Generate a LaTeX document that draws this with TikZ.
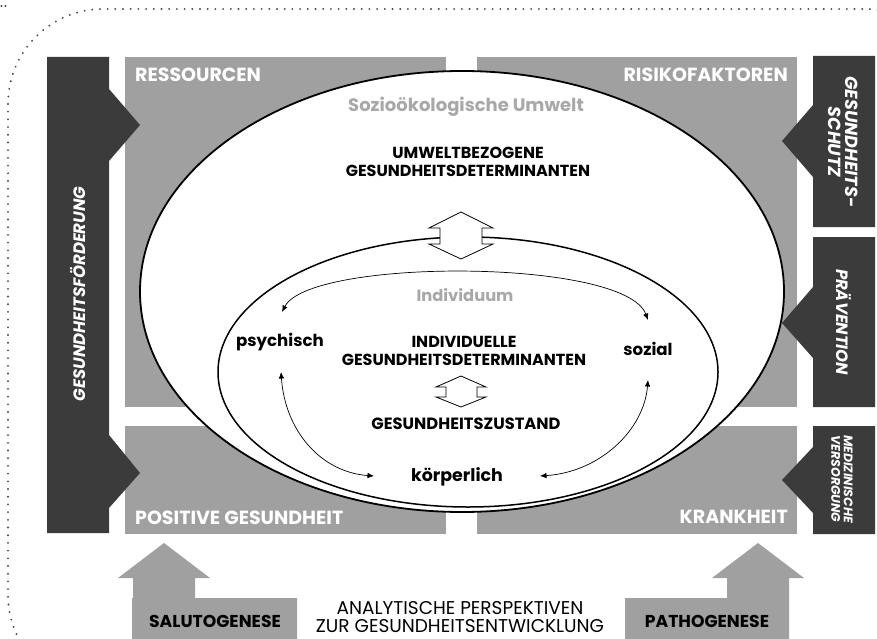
\documentclass[tikz,border=0pt]{standalone}
\usepackage{fontspec}
\setmainfont{Poppins}
\usetikzlibrary{arrows.meta}
\definecolor{dk}{HTML}{3B3B3B}
\definecolor{gr}{HTML}{A0A0A0}
\definecolor{lg}{HTML}{A8A8A8}
\definecolor{dotc}{HTML}{4A4A4A}
\newcommand{\fsz}[1]{\fontsize{#1}{#1}\selectfont}
\begin{document}
\begin{tikzpicture}[x=1pt,y=-1pt,
  darkbar/.style={fill=dk,draw=none},
  graybox/.style={fill=gr,draw=none},
  whitelbl/.style={text=white,font=\bfseries\fsz{19},inner sep=0pt},
  blacklbl/.style={text=black,font=\bfseries\fsz{16},inner sep=0pt,align=center},
  greylbl/.style={text=lg,font=\bfseries\fsz{16.3},inner sep=0pt},
  sidelbl/.style={text=white,font=\bfseries\itshape\fsz{16.5},inner sep=0pt,align=center},
  dimlbl/.style={text=black,font=\bfseries\fsz{16.6},inner sep=0pt},
  genlbl/.style={text=black,font=\bfseries\fsz{17.2},inner sep=0pt},
  analbl/.style={text=black,font=\fsz{18.5},inner sep=0pt},
  ring/.style={draw=black,fill=white},
  dblarrow/.style={draw=black,fill=white,line width=0.8pt,line join=miter},
  cyc/.style={draw=black,line width=0.7pt,{Latex[length=6.5pt,width=5.5pt]}-{Latex[length=6.5pt,width=5.5pt]}},
  frame/.style={draw=dotc,line width=2.1pt,dash pattern=on 0pt off 7.7pt,line cap=round}
]
\useasboundingbox (0,0) rectangle (877,639);
\fill[white] (0,0) rectangle (877,639);

% dotted frame
\begin{scope}
\clip (0,0) rectangle (877,639);
\draw[frame,rounded corners=95pt] (8,9) rectangle (960,690);
\end{scope}
\fill[dotc] (1.5,6) circle (1.2pt) (5.5,6) circle (1.2pt);

% gray quadrants
\path[graybox] (125,57) rectangle (446,407);
\path[graybox] (477,57) rectangle (797,407);
\path[graybox] (125,426) rectangle (446,534);
\path[graybox] (477,426) rectangle (797,534);

% dark bars
\path[darkbar] (47,57) -- (109,57) -- (109,89) -- (140,125) -- (109,161) -- (109,435) -- (140,473) -- (109,508) -- (109,533) -- (47,533) -- cycle;
\path[darkbar] (875,56) -- (813,56) -- (813,105) -- (782,141) -- (813,177) -- (813,227) -- (875,227) -- cycle;
\path[darkbar] (875,237) -- (813,237) -- (813,287) -- (782,323) -- (813,358) -- (813,407) -- (875,407) -- cycle;
\path[darkbar] (875,426) -- (813,426) -- (813,447) -- (782,480) -- (813,513) -- (813,534) -- (875,534) -- cycle;

% bottom arrows
\path[graybox] (132,639) -- (132,598) -- (133,598) -- (133,578) -- (118,578) -- (164,543) -- (210,578) -- (195,578) -- (195,598) -- (297,598) -- (297,639) -- cycle;
\path[graybox] (625,639) -- (625,598) -- (727,598) -- (727,578) -- (712,578) -- (758,543) -- (804,578) -- (789,578) -- (789,639) -- cycle;

% ellipses
\draw[ring,line width=1.8pt] (462,291.5) ellipse [x radius=322, y radius=220.5];
\draw[ring,line width=1.5pt] (468,372) ellipse [x radius=250, y radius=135];

% double arrows
\path[dblarrow] (461,212) -- (493,228) -- (482,228) -- (482,244) -- (493,244) -- (461,259) -- (429,244) -- (440,244) -- (440,228) -- (429,228) -- cycle;
\path[dblarrow] (461,376) -- (486,387) -- (477,387) -- (477,397) -- (486,397) -- (461,407) -- (436,397) -- (446,397) -- (446,387) -- (436,387) -- cycle;

% labels
\node[whitelbl,anchor=base west] (res) at (135,82) {RESSOURCEN};
\node[whitelbl,anchor=base east] (risk) at (788,82) {RISIKOFAKTOREN};
\node[whitelbl,anchor=base west] (pos) at (135,524) {POSITIVE GESUNDHEIT};
\node[whitelbl,anchor=base east] (krank) at (788,523) {KRANKHEIT};

\node[greylbl,anchor=base,font=\bfseries\fsz{18}] (umwelt) at (466,112) {Sozioökologische Umwelt};
\node[blacklbl,anchor=base] (ugd1) at (468,159) {UMWELTBEZOGENE};
\node[blacklbl,anchor=base] (ugd2) at (468,177) {GESUNDHEITSDETERMINANTEN};
\node[greylbl,anchor=base] (indiv) at (465,301) {Individuum};
\node[blacklbl,anchor=base] (igd1) at (464,347) {INDIVIDUELLE};
\node[blacklbl,anchor=base] (igd2) at (464,365) {GESUNDHEITSDETERMINANTEN};
\node[blacklbl,anchor=base,font=\bfseries\fsz{16.3}] (zust) at (466,429) {GESUNDHEITSZUSTAND};
\node[dimlbl,anchor=base] (psy) at (280,346) {psychisch};
\node[dimlbl,anchor=base] (soz) at (648,355) {sozial};
\node[dimlbl,anchor=base,font=\bfseries\fsz{17.4}] (koer) at (457,481) {körperlich};

% cycle arrows
\coordinate (psyT) at (282,312);
\coordinate (sozT) at (648,320);
\coordinate (psyB) at (281,372);
\coordinate (sozB) at (648,380);
\coordinate (koL) at (374,476);
\coordinate (koR) at (540,476);
\draw[cyc] (psyT) .. controls (310,258) and (625,258) .. (sozT);
\draw[cyc] (psyB) .. controls (285,430) and (320,472) .. (koL);
\draw[cyc] (sozB) .. controls (644,430) and (600,472) .. (koR);

% side labels
\node[sidelbl,rotate=90] (foerd) at (78,294) {GESUNDHEITSFÖRDERUNG};
\node[sidelbl,rotate=-90,font=\bfseries\itshape\fsz{17.5}] (schutz) at (843,142) {GESUNDHEITS-\\SCHUTZ};
\node[sidelbl,rotate=-90,font=\bfseries\itshape\fsz{16.4}] (praev) at (844,322) {PRÄVENTION};
\node[sidelbl,rotate=-90,font=\bfseries\itshape\fsz{12.4}] (med) at (842,479) {MEDIZINISCHE\\VERSORGUNG};

% bottom
\node[genlbl,anchor=base] (salu) at (215,627) {SALUTOGENESE};
\node[genlbl,anchor=base] (patho) at (707,627) {PATHOGENESE};
\node[analbl,anchor=base] (ana1) at (460,614) {ANALYTISCHE PERSPEKTIVEN};
\node[analbl,anchor=base] (ana2) at (460,632.5) {ZUR GESUNDHEITSENTWICKLUNG};
\end{tikzpicture}
\end{document}
